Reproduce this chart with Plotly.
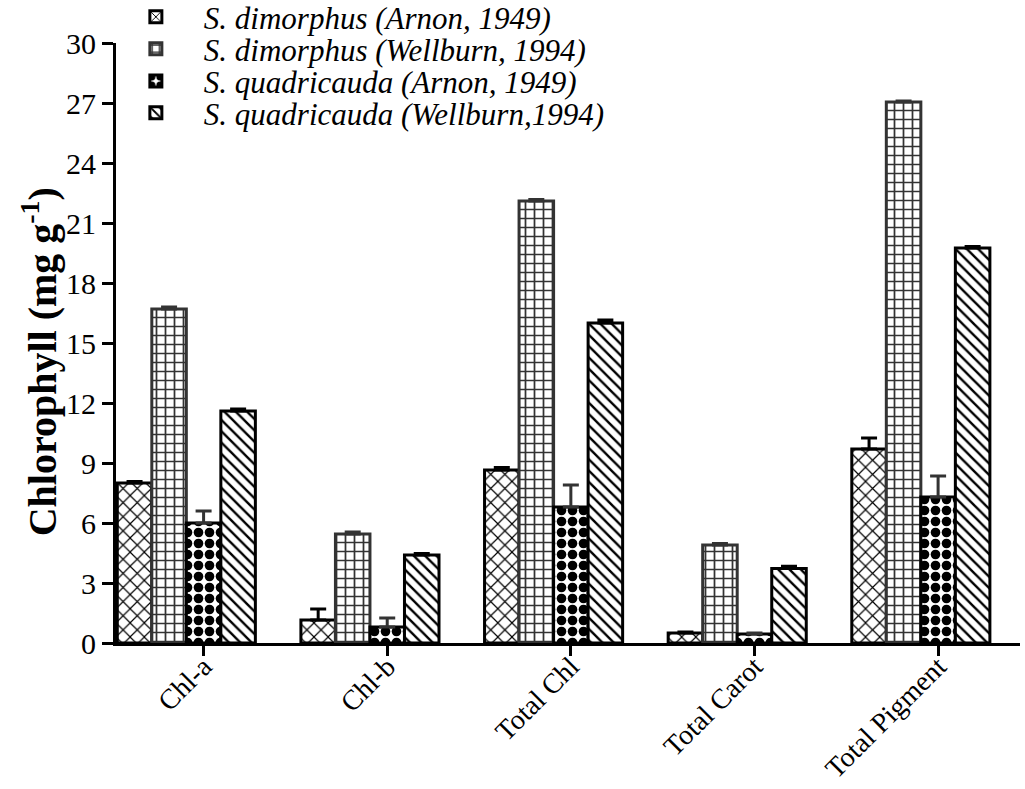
import plotly.graph_objects as go

# Pigment categories and per-method means / standard deviations (mg g-1)
categories = ["Chl-a", "Chl-b", "Total Chl", "Total Carot", "Total Pigment"]
series_names = [
    "S. dimorphus (Arnon, 1949)",
    "S. dimorphus (Wellburn, 1994)",
    "S. quadricauda (Arnon, 1949)",
    "S. quadricauda (Wellburn,1994)",
]
dim_arnon = [8.0, 1.15, 8.65, 0.5, 9.7]
dim_arnon_sd = [0.08, 0.55, 0.12, 0.05, 0.55]
dim_wellburn = [16.7, 5.45, 22.1, 4.9, 27.05]
dim_wellburn_sd = [0.1, 0.1, 0.08, 0.07, 0.05]
quad_arnon = [6.0, 0.8, 6.8, 0.45, 7.3]
quad_arnon_sd = [0.6, 0.45, 1.1, 0.05, 1.05]
quad_wellburn = [11.6, 4.4, 16.0, 3.72, 19.75]
quad_wellburn_sd = [0.1, 0.07, 0.15, 0.12, 0.08]
y_ticks = [0, 3, 6, 9, 12, 15, 18, 21, 24, 27, 30]

values = [dim_arnon, dim_wellburn, quad_arnon, quad_wellburn]
errors = [dim_arnon_sd, dim_wellburn_sd, quad_arnon_sd, quad_wellburn_sd]

# fill pattern, outline colour, error-bar colour for each series
styles = [
    dict(shape="x", size=10, solidity=0.22, fg="black", line="black", err="black"),
    dict(shape="+", size=9, solidity=0.35, fg="#333333", line="#333333", err="#333333"),
    dict(shape=".", size=11, solidity=0.6, fg="black", line="black", err="#333333"),
    dict(shape="\\", size=8, solidity=0.3, fg="black", line="black", err="black"),
]

SERIF = "Liberation Serif"
x_pos = list(range(len(categories)))
legend_ids = ["legend", "legend2", "legend3", "legend4"]
legend_rows = [1.043, 0.99, 0.936, 0.883]

fig = go.Figure()
for name, vals, errs, st, lg in zip(series_names, values, errors, styles, legend_ids):
    fig.add_trace(go.Bar(
        x=x_pos,
        y=vals,
        name=name,
        legend=lg,
        marker=dict(
            color="white",
            line=dict(color=st["line"], width=3),
            pattern=dict(shape=st["shape"], size=st["size"], solidity=st["solidity"],
                         fgcolor=st["fg"], bgcolor="white", fillmode="replace"),
        ),
        error_y=dict(type="data", array=errs, arrayminus=[0] * len(errs), symmetric=False,
                     color=st["err"], thickness=3, width=8),
    ))

# category ticks sit under the third bar of each group
bar_w = 0.752 / 4
tick_vals = [x - 0.376 + 2.5 * bar_w for x in x_pos]

legend_layout = {}
for lg, yrow in zip(legend_ids, legend_rows):
    legend_layout[lg] = dict(
        x=-0.009, y=yrow, xanchor="left", yanchor="middle",
        font=dict(family=SERIF, size=31, style="italic", color="black"),
        bgcolor="rgba(0,0,0,0)", itemwidth=86,
    )

fig.update_layout(
    width=1025,
    height=789,
    margin=dict(l=116, r=5, t=43, b=146, autoexpand=False),
    paper_bgcolor="white",
    plot_bgcolor="white",
    barmode="group",
    bargap=0.248,
    bargroupgap=0,
    font=dict(family=SERIF, color="black", size=28),
    showlegend=True,
    xaxis=dict(
        range=[-0.383, 4.54],
        tickmode="array",
        tickvals=tick_vals,
        ticktext=categories,
        tickangle=-45,
        ticks="outside",
        ticklen=10,
        tickwidth=3,
        tickcolor="black",
        ticklabelstandoff=-17,
        showline=True,
        linecolor="black",
        linewidth=3,
        showgrid=False,
        zeroline=False,
        automargin=False,
        tickfont=dict(family=SERIF, size=28, color="black"),
    ),
    yaxis=dict(
        range=[0, 30],
        tickmode="array",
        tickvals=y_ticks,
        ticks="outside",
        ticklen=11,
        tickwidth=3,
        tickcolor="black",
        showline=True,
        linecolor="black",
        linewidth=3,
        showgrid=False,
        zeroline=False,
        automargin=False,
        tickfont=dict(family=SERIF, size=30, color="black"),
    ),
    annotations=[dict(
        text="<b>Chlorophyll (mg g<sup>-1</sup>)</b>",
        xref="paper", yref="paper",
        x=-0.085, y=0.468, xanchor="center", yanchor="middle",
        textangle=-90, showarrow=False,
        font=dict(family=SERIF, size=40, color="black"),
    )],
    **legend_layout,
)

fig.write_html("out.html")
